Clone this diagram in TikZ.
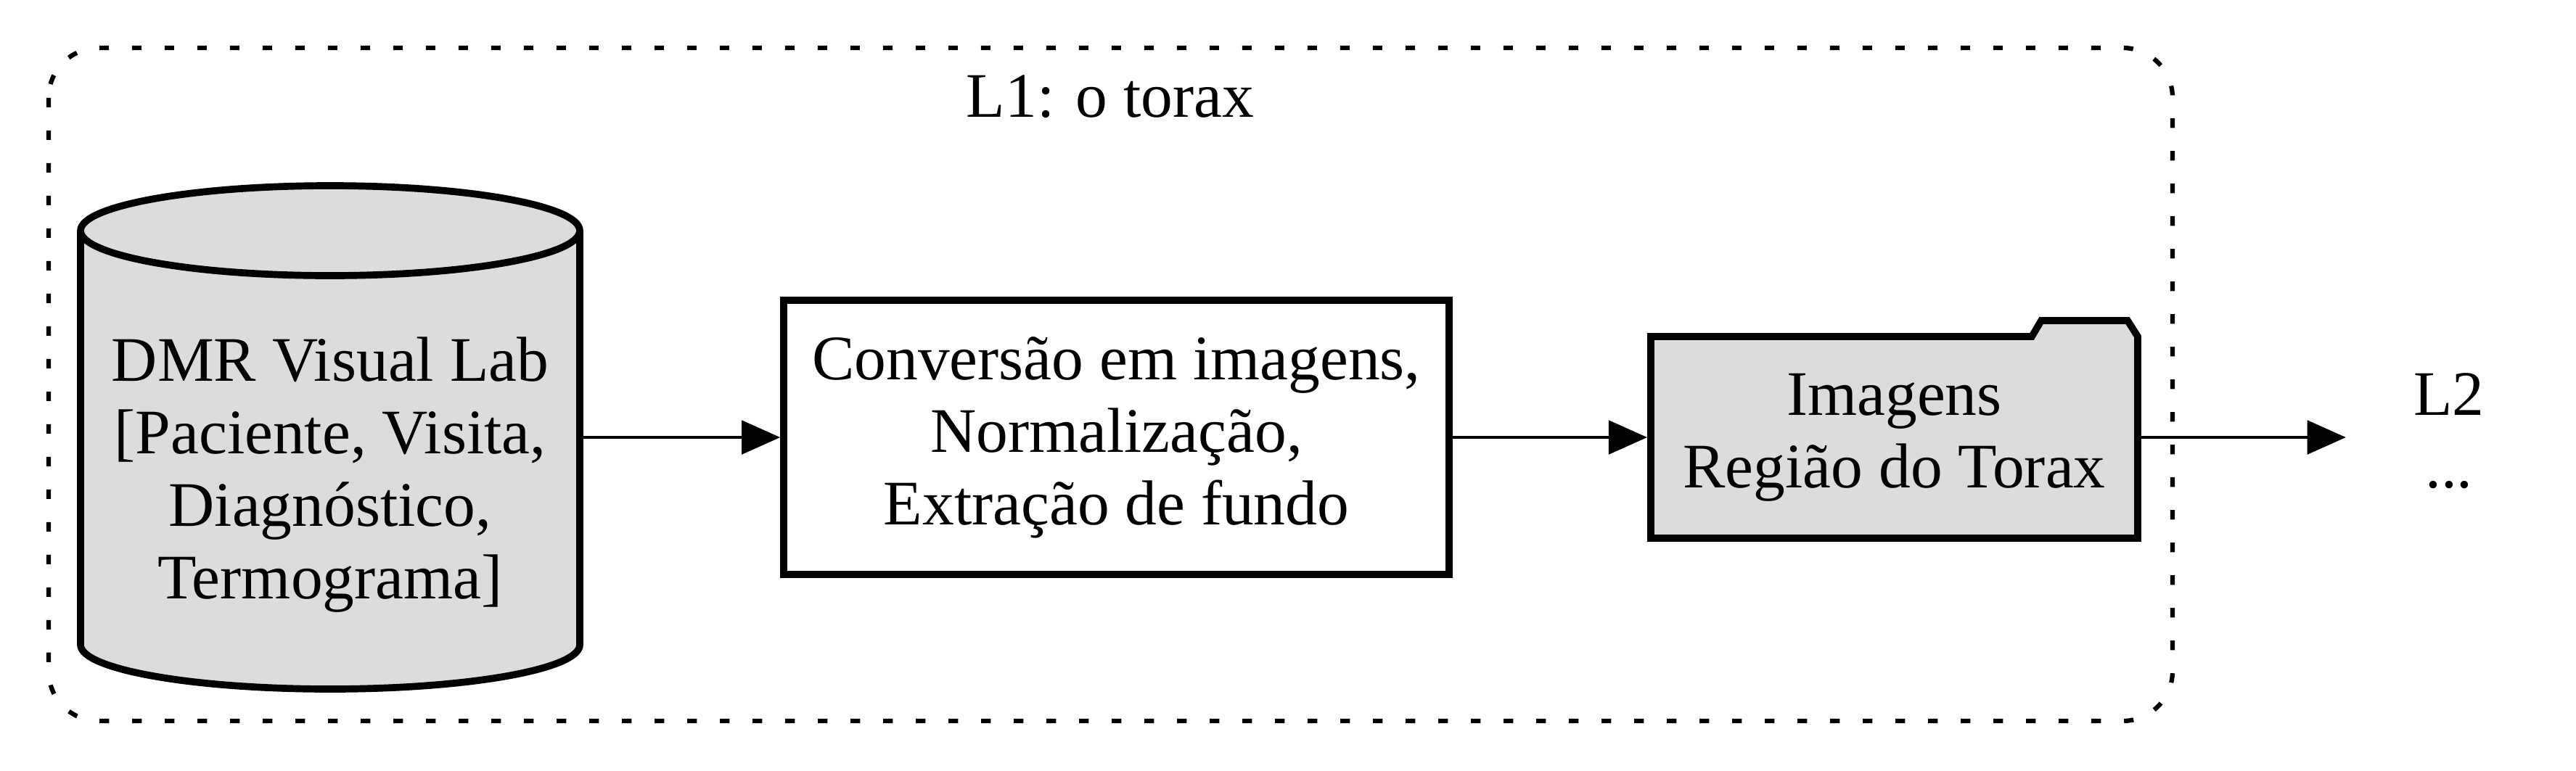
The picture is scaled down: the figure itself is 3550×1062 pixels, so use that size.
\documentclass[tikz,border=0pt]{standalone}
\usepackage{fontspec}
\setmainfont{Liberation Serif}
\usetikzlibrary{arrows.meta,calc}
\definecolor{gbor}{HTML}{DCDCDC}
\begin{document}
\begin{tikzpicture}[x=0.16pt,y=-0.16pt,
  font=\fontsize{14}{16}\selectfont,
  thickln/.style={line width=1.55pt},
  conn/.style={line width=0.74pt,-{Triangle[length=8.5pt,width=7.4pt]}},
  procbox/.style={draw,thickln,minimum width=146.7pt,minimum height=60.5pt,align=center,inner sep=0pt},
  cluster/.style={draw,line width=1pt,dash pattern=on 2.1pt off 5.1pt,rounded corners=11pt}]
\useasboundingbox (0,0) rectangle (3550,1062);
% cluster
\draw[cluster] (67,66) rectangle (2994,994);
\node[anchor=base,inner sep=0pt] (title) at (1530,161) {L1: o torax};
% cylinder
\fill[gbor] (111,318) -- (111,889) arc[start angle=180,end angle=0,x radius=344,y radius=61] -- (799,318) -- cycle;
\draw[thickln] (111,318) -- (111,889) arc[start angle=180,end angle=0,x radius=344,y radius=61] -- (799,318);
\draw[thickln,fill=gbor] (455,318) ellipse[x radius=344,y radius=62];
\node[minimum width=110.1pt,minimum height=111pt,inner sep=0pt,outer sep=0pt] (db) at (455,603) {};
\node[align=center,inner sep=0pt] (dbtxt) at (455,655) {DMR Visual Lab\\{[}Paciente, Visita,\\Diagnóstico,\\Termograma]};
% process box
\node[procbox] (conv) at (1538.5,603) {Conversão em imagens,\\Normalização,\\Extração de fundo};
% folder
\filldraw[thickln,fill=gbor] (2275,742) -- (2275,464) -- (2800,464) -- (2813,442) -- (2932,442) -- (2946,464) -- (2946,742) -- cycle;
\node[minimum width=107.4pt,minimum height=44.5pt,inner sep=0pt,outer sep=0.78pt,align=center] (fold) at (2610.5,603) {Imagens\\Região do Torax};
% next level
\node[minimum width=45.1pt,inner sep=0pt,align=center] (l2) at (3375,603) {L2\\...\vphantom{g}};
% connectors
\draw[conn] (db.east) -- (conv.west);
\draw[conn] (conv.east) -- (fold.west);
\draw[conn] (fold.east) -- (l2.west);
\end{tikzpicture}
\end{document}
